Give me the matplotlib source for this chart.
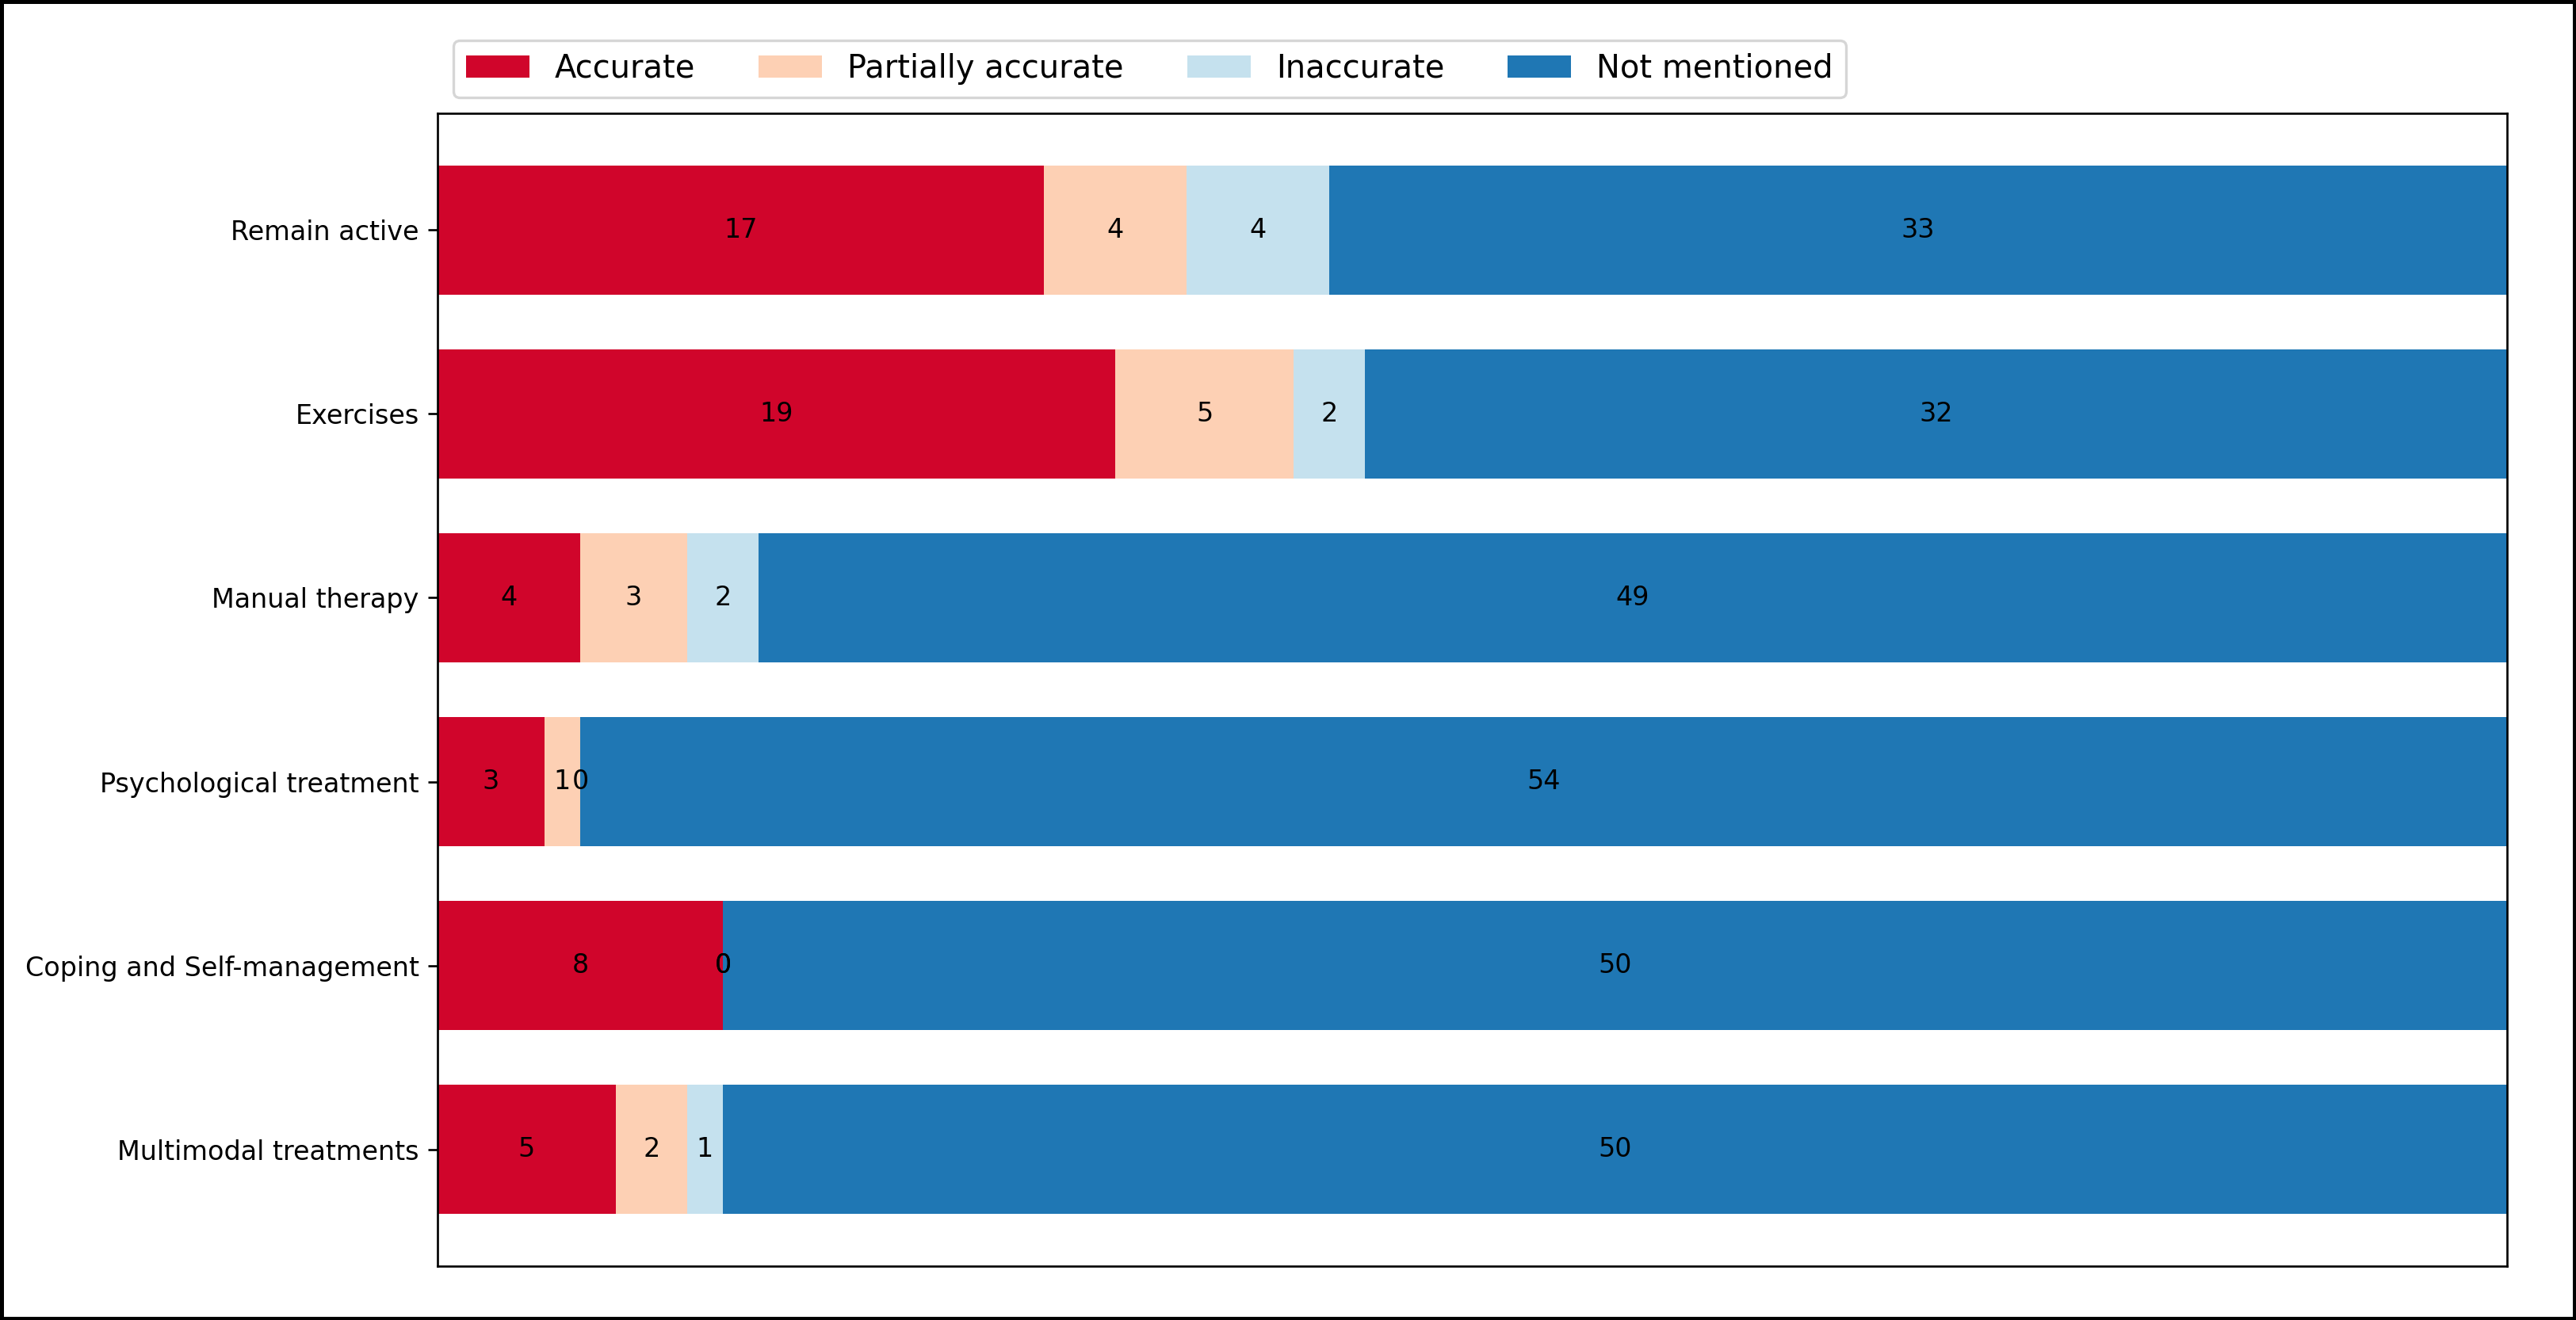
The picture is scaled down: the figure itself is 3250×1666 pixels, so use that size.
import numpy as np
import matplotlib.pyplot as plt

# categories and counts per answer type
categories = ['Remain active', 'Exercises', 'Manual therapy',
              'Psychological treatment', 'Coping and Self-management',
              'Multimodal treatments']
series_names = ['Accurate', 'Partially accurate', 'Inaccurate', 'Not mentioned']
accurate = [17, 19, 4, 3, 8, 5]
partially = [4, 5, 3, 1, 0, 2]
inaccurate = [4, 2, 2, 0, 0, 1]
not_mentioned = [33, 32, 49, 54, 50, 50]
colors = ['#d0052b', '#fdd0b4', '#c5e1ee', '#1f77b4']

data = np.array([accurate, partially, inaccurate, not_mentioned]).T
data_cum = data.cumsum(axis=1)

fig = plt.figure(figsize=(3250 / 240, 1666 / 240), dpi=240,
                 linewidth=2.6, edgecolor='black')
ax = fig.add_axes([0.1698, 0.0408, 0.8034, 0.8734])
ax.invert_yaxis()
ax.xaxis.set_visible(False)
ax.set_xlim(0, np.sum(data, axis=1).max())

for i, (name, color) in enumerate(zip(series_names, colors)):
    widths = data[:, i]
    starts = data_cum[:, i] - widths
    rects = ax.barh(categories, widths, left=starts, height=0.7,
                    label=name, color=color)
    ax.bar_label(rects, label_type='center', color='black', fontsize=10)

ax.tick_params(axis='y', labelsize=10)
ax.legend(ncols=len(series_names), bbox_to_anchor=(0, 1),
          loc='lower left', fontsize=12)

fig.savefig('out.png', dpi=240)
